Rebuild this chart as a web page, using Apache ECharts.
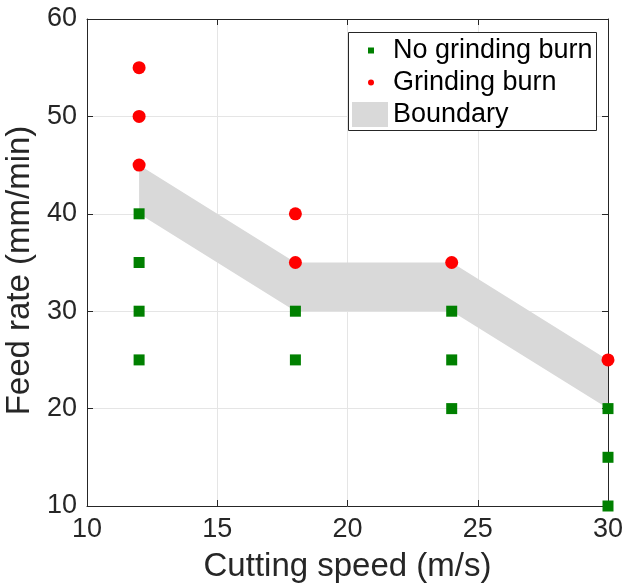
<!DOCTYPE html>
<html>
<head>
<meta charset="utf-8">
<script src="https://cdn.jsdelivr.net/npm/echarts@6/dist/echarts.min.js"></script>
<style>
    html, body { margin: 0; padding: 0; background: #fff; }
    #chart { width: 625px; height: 587px; }
</style>
</head>
<body>
<div id="chart"></div>
<script>
    // cutting speed (m/s), feed rate (mm/min)
    const noBurn = [[12,40],[12,35],[12,30],[12,25],[18,30],[18,25],[24,30],[24,25],[24,20],[30,20],[30,15],[30,10]];
    const burn = [[12,55],[12,50],[12,45],[18,40],[18,35],[24,35],[30,25]];
    const boundarySpeed = [12, 18, 24, 30];
    const boundaryUpper = [45, 35, 35, 25];
    const boundaryLower = [40, 30, 30, 20];
    const xTicks = [10, 15, 20, 25, 30];
    const yTicks = [10, 20, 30, 40, 50, 60];

    const font = 'Liberation Sans, Arial, Helvetica, sans-serif';
    const ink = '#262626';

    const xBase = {
        type: 'value',
        min: xTicks[0],
        max: xTicks[xTicks.length - 1],
        interval: xTicks[1] - xTicks[0],
        axisLine: { show: true, lineStyle: { color: ink, width: 1 } },
        axisTick: { show: true, inside: true, length: 6, lineStyle: { color: ink } },
    };
    const yBase = {
        type: 'value',
        min: yTicks[0],
        max: yTicks[yTicks.length - 1],
        interval: yTicks[1] - yTicks[0],
        axisLine: { show: true, lineStyle: { color: ink, width: 1 } },
        axisTick: { show: true, inside: true, length: 6, lineStyle: { color: ink } },
    };

    const myChart = echarts.init(document.getElementById('chart'));
    const options = {
        animation: false,
        grid: { left: 87, right: 17, top: 19, bottom: 81, containLabel: false, outerBoundsMode: 'none' },
        xAxis: [
            Object.assign({}, xBase, {
                position: 'bottom',
                name: 'Cutting speed (m/s)',
                nameLocation: 'middle',
                nameGap: 44,
                nameTextStyle: { color: ink, fontSize: 33, fontFamily: font },
                axisLabel: { color: ink, fontSize: 27, fontFamily: font, margin: 10 },
                splitLine: { show: true, lineStyle: { color: '#e5e5e5', width: 1 } },
            }),
            Object.assign({}, xBase, {
                position: 'top',
                axisLabel: { show: false },
                splitLine: { show: false },
            })
        ],
        yAxis: [
            Object.assign({}, yBase, {
                position: 'left',
                name: 'Feed rate (mm/min)',
                nameLocation: 'middle',
                nameGap: 47,
                nameTextStyle: { color: ink, fontSize: 33, fontFamily: font, padding: [0, 16, 0, 0] },
                axisLabel: { color: ink, fontSize: 27, fontFamily: font, margin: 10 },
                splitLine: { show: true, lineStyle: { color: '#e5e5e5', width: 1 } },
            }),
            Object.assign({}, yBase, {
                position: 'right',
                axisLabel: { show: false },
                splitLine: { show: false },
            })
        ],
        legend: [
            {
                orient: 'vertical',
                left: 368,
                top: 37,
                padding: 0,
                itemWidth: 6,
                itemHeight: 6,
                itemGap: 5,
                z: 10,
                selectedMode: false,
                textStyle: { color: '#000', fontSize: 27, fontFamily: font, lineHeight: 27, padding: [0, 0, 0, 14] },
                data: [
                    { name: 'No grinding burn', icon: 'rect' },
                    { name: 'Grinding burn', icon: 'circle' }
                ]
            },
            {
                left: 352,
                top: 101,
                padding: 0,
                itemWidth: 36,
                itemHeight: 25,
                z: 10,
                selectedMode: false,
                textStyle: { color: '#000', fontSize: 27, fontFamily: font },
                data: [{ name: 'Boundary', icon: 'rect' }]
            }
        ],
        graphic: [
            {
                type: 'rect',
                z: 5,
                shape: { x: 348.5, y: 32.5, width: 248, height: 98 },
                style: { fill: '#fff', stroke: ink, lineWidth: 1 }
            }
        ],
        series: [
            {
                name: 'Boundary',
                type: 'custom',
                xAxisIndex: 0,
                yAxisIndex: 0,
                itemStyle: { color: '#d9d9d9' },
                data: [[boundarySpeed[0], boundaryUpper[0]]],
                renderItem: function (params, api) {
                    let pts = [];
                    for (let i = 0; i < boundarySpeed.length; i++) {
                        pts.push(api.coord([boundarySpeed[i], boundaryUpper[i]]));
                    }
                    for (let i = boundarySpeed.length - 1; i >= 0; i--) {
                        pts.push(api.coord([boundarySpeed[i], boundaryLower[i]]));
                    }
                    return { type: 'polygon', shape: { points: pts }, style: { fill: '#d9d9d9' } };
                }
            },
            {
                name: 'No grinding burn',
                type: 'scatter',
                symbol: 'rect',
                symbolSize: 11,
                clip: false,
                itemStyle: { color: '#008000', opacity: 1 },
                data: noBurn
            },
            {
                name: 'Grinding burn',
                type: 'scatter',
                symbol: 'circle',
                symbolSize: 13,
                clip: false,
                itemStyle: { color: '#ff0000', opacity: 1 },
                data: burn
            }
        ]
    };
    myChart.setOption(options);
</script>
</body>
</html>
